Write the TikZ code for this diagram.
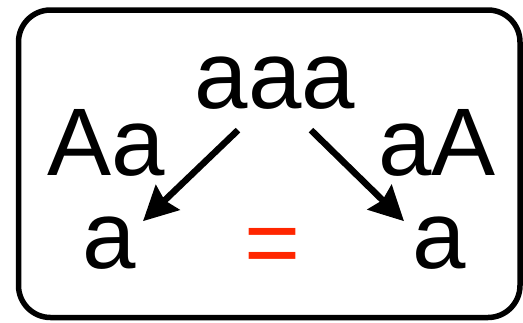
\documentclass[tikz,border=0pt]{standalone}
\usepackage{fontspec}
\setmainfont{Liberation Sans}
\usetikzlibrary{arrows.meta, positioning}
\definecolor{eqred}{HTML}{FF2600}

\begin{document}
\begin{tikzpicture}[x=1pt, y=-1pt,
    word/.style={inner sep=0pt, anchor=base, font=\fontsize{96}{100}\selectfont},
    arr/.style={-{Stealth[length=34pt, width=34pt, inset=4pt]}, line width=6.5pt}]
  \useasboundingbox (0,0) rectangle (523,322);
  % Rámeček
  \draw[line width=5.5pt, rounded corners=32pt] (18.5,10) rectangle (520,317.5);
  % Slova
  \node[word] (aaa) at (275,108) {aaa};
  \node[word] (lab) at (106,175) {Aa};
  \node[word] (rab) at (437,175) {aA};
  \node[word] (aL) at (109,268) {a};
  \node[word] (aR) at (439,268) {a};
  \node[word, text=eqred] (eq) at (273,275) {=};
  % Šipky
  \draw[arr] ([xshift=-37pt, yshift=-21pt]aaa.south) -- ([xshift=34pt, yshift=-5pt]aL.north);
  \draw[arr] ([xshift=36pt, yshift=-21pt]aaa.south) -- ([xshift=-35pt, yshift=-5pt]aR.north);
\end{tikzpicture}
\end{document}
